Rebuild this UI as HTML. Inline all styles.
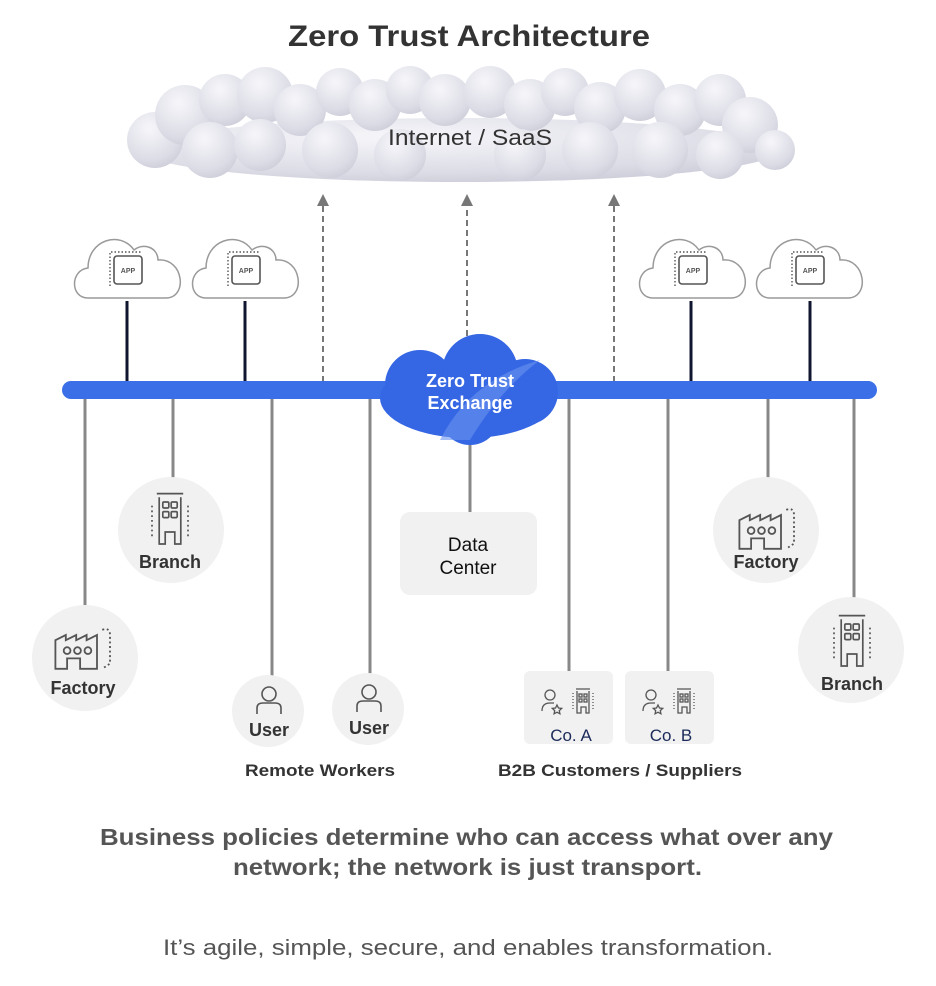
<!DOCTYPE html>
<html><head><meta charset="utf-8"><style>
html,body{margin:0;padding:0;background:#fff;}
svg{display:block;font-family:"Liberation Sans",sans-serif;}
</style></head><body>
<svg width="936" height="986" viewBox="0 0 936 986" xmlns="http://www.w3.org/2000/svg">
<defs>
<radialGradient id="cg" cx="0.4" cy="0.3" r="0.8"><stop offset="0" stop-color="#f6f6fa"/><stop offset="0.7" stop-color="#dcdce6"/><stop offset="1" stop-color="#c9c9d6"/></radialGradient>
<g id="appcloud">
<path d="M-40,30 C-58,30 -58,2 -40,0 C-40,-28 -8,-38 6,-18 C16,-26 30,-20 30,-8 C56,-10 60,30 38,30 Z" fill="#fff" stroke="#9a9a9a" stroke-width="1.5"/>
<rect x="-14" y="-12" width="28" height="28" rx="3" fill="#fff" stroke="#555" stroke-width="1.6"/>
<path d="M-18,18 V-16 H14" fill="none" stroke="#555" stroke-width="1.4" stroke-dasharray="1.5,2"/>
<text x="0" y="5" font-size="7" fill="#555" text-anchor="middle" font-weight="bold">APP</text>
</g>
<g id="factory" fill="none" stroke="#555" stroke-width="1.4" transform="scale(1.3)">
<path d="M-22,16 V-6 L-14,-10 V-6 L-6,-10 V-6 L2,-10 V-6 L10,-10 V16 H-3 V8 H-13 V16 Z"/>
<circle cx="-13" cy="2" r="2.6"/><circle cx="-5" cy="2" r="2.6"/><circle cx="3" cy="2" r="2.6"/>
<path d="M14,-14 Q20,-16 20,-10 V12 L14,16" stroke-dasharray="1.5,2"/>
</g>
<g id="branch" fill="none" stroke="#555" stroke-width="1.4" transform="scale(1.2)">
<path d="M-11,-22 H11"/><path d="M-9,-19 V20 H-4 V10 H4 V20 H9 V-19"/>
<rect x="-6" y="-15" width="5" height="5" rx="1"/><rect x="1" y="-15" width="5" height="5" rx="1"/>
<rect x="-6" y="-7" width="5" height="5" rx="1"/><rect x="1" y="-7" width="5" height="5" rx="1"/>
<path d="M-15,-12 V16 M15,-12 V16" stroke-dasharray="1.5,2.5"/>
</g>
<g id="user" fill="none" stroke="#555" stroke-width="1.6">
<circle cx="0" cy="-6" r="7"/><path d="M-12,14 V8 Q-12,3 -6,3 H6 Q12,3 12,8 V14"/>
</g>
<g id="co" fill="none" stroke="#555" stroke-width="1.3">
<circle cx="-20" cy="-8" r="5"/><path d="M-28,8 Q-28,0 -20,0 H-16"/>
<path d="M-13,2 l1.5,3 3.2,.4 -2.4,2.2 .6,3.2 -2.9,-1.6 -2.9,1.6 .6,-3.2 -2.4,-2.2 3.2,-.4z"/>
<path d="M6,-14 H20 M7,-12 V10 H11 V4 H16 V10 H19 V-12"/>
<rect x="9" y="-9" width="3" height="3"/><rect x="14" y="-9" width="3" height="3"/><rect x="9" y="-4" width="3" height="3"/><rect x="14" y="-4" width="3" height="3"/>
<path d="M3,-10 V8 M23,-10 V8" stroke-dasharray="1,2"/>
</g>
</defs>
<text x="288" y="46" font-size="30" font-weight="bold" fill="#333" textLength="362" lengthAdjust="spacingAndGlyphs">Zero Trust Architecture</text>
<g fill="url(#cg)">
<ellipse cx="460" cy="150" rx="320" ry="32"/>
<circle cx="155" cy="140" r="28"/><circle cx="185" cy="115" r="30"/><circle cx="225" cy="100" r="26"/><circle cx="265" cy="95" r="28"/>
<circle cx="300" cy="110" r="26"/><circle cx="340" cy="92" r="24"/><circle cx="375" cy="105" r="26"/><circle cx="410" cy="90" r="24"/>
<circle cx="445" cy="100" r="26"/><circle cx="490" cy="92" r="26"/><circle cx="530" cy="105" r="26"/><circle cx="565" cy="92" r="24"/>
<circle cx="600" cy="108" r="26"/><circle cx="640" cy="95" r="26"/><circle cx="680" cy="110" r="26"/><circle cx="720" cy="100" r="26"/>
<circle cx="750" cy="125" r="28"/><circle cx="775" cy="150" r="20"/>
<circle cx="210" cy="150" r="28"/><circle cx="260" cy="145" r="26"/><circle cx="330" cy="150" r="28"/><circle cx="400" cy="155" r="26"/>
<circle cx="520" cy="155" r="26"/><circle cx="590" cy="150" r="28"/><circle cx="660" cy="150" r="28"/><circle cx="720" cy="155" r="24"/>
</g>
<text x="388" y="145" font-size="22" fill="#333" textLength="164" lengthAdjust="spacingAndGlyphs">Internet / SaaS</text>
<g stroke="#777" stroke-width="2" stroke-dasharray="6,4"><path d="M323,382 V205"/><path d="M467,336 V205"/><path d="M614,382 V205"/></g>
<g fill="#777"><path d="M317,206 L323,194 L329,206Z"/><path d="M461,206 L467,194 L473,206Z"/><path d="M608,206 L614,194 L620,206Z"/></g>
<use href="#appcloud" x="128" y="268"/><use href="#appcloud" x="246" y="268"/>
<use href="#appcloud" x="693" y="268"/><use href="#appcloud" x="810" y="268"/>
<g stroke="#101530" stroke-width="3"><path d="M127,301 V386M245,301 V386M691,301 V386M810,301 V386"/></g>
<g stroke="#888" stroke-width="3">
<path d="M85,392 V606"/><path d="M173,392 V478"/><path d="M272,392 V676"/><path d="M370,392 V674"/>
<path d="M470,440 V513"/><path d="M569,392 V671"/><path d="M668,392 V671"/><path d="M768,392 V478"/><path d="M854,392 V598"/>
</g>
<rect x="62" y="381" width="815" height="18" rx="9" fill="#3b6fe8"/>
<g fill="#3566e3">
<ellipse cx="468" cy="398" rx="88" ry="40"/><circle cx="420" cy="385" r="35"/><circle cx="480" cy="372" r="38"/><circle cx="525" cy="392" r="33"/><circle cx="470" cy="415" r="30"/>
</g>
<path d="M440,440 Q470,380 540,360 Q500,390 470,440Z" fill="#6a92f0" opacity=".6"/>
<text x="470" y="387" font-size="18" font-weight="bold" fill="#fff" text-anchor="middle">Zero Trust</text>
<text x="470" y="409" font-size="18" font-weight="bold" fill="#fff" text-anchor="middle">Exchange</text>
<g fill="#f1f1f1">
<circle cx="85" cy="658" r="53"/><circle cx="171" cy="530" r="53"/><circle cx="268" cy="711" r="36"/><circle cx="368" cy="709" r="36"/>
<circle cx="766" cy="530" r="53"/><circle cx="851" cy="650" r="53"/>
<rect x="400" y="512" width="137" height="83" rx="10"/>
<rect x="524" y="671" width="89" height="73" rx="6"/><rect x="625" y="671" width="89" height="73" rx="6"/>
</g>
<use href="#factory" x="84" y="648"/><use href="#branch" x="170" y="520"/>
<use href="#user" x="269" y="700"/><use href="#user" x="369" y="698"/>
<use href="#factory" x="768" y="528"/><use href="#branch" x="852" y="642"/>
<use href="#co" x="570" y="703"/><use href="#co" x="671" y="703"/>
<g font-size="18" font-weight="bold" fill="#333" text-anchor="middle">
<text x="83" y="694">Factory</text><text x="170" y="568">Branch</text>
<text x="269" y="736">User</text><text x="369" y="734">User</text>
<text x="766" y="568">Factory</text><text x="852" y="690">Branch</text>
</g>
<g font-size="17" font-weight="bold" fill="#333">
<text x="245" y="776" textLength="150" lengthAdjust="spacingAndGlyphs">Remote Workers</text>
<text x="498" y="776" textLength="244" lengthAdjust="spacingAndGlyphs">B2B Customers / Suppliers</text>
</g>
<text x="468" y="551" font-size="19" fill="#111" text-anchor="middle">Data</text>
<text x="468" y="574" font-size="19" fill="#111" text-anchor="middle">Center</text>
<text x="571" y="741" font-size="17" fill="#1a2a5a" text-anchor="middle">Co. A</text>
<text x="671" y="741" font-size="17" fill="#1a2a5a" text-anchor="middle">Co. B</text>
<text x="100" y="845" font-size="23" font-weight="bold" fill="#555" textLength="733" lengthAdjust="spacingAndGlyphs">Business policies determine who can access what over any</text>
<text x="233" y="875" font-size="23" font-weight="bold" fill="#555" textLength="469" lengthAdjust="spacingAndGlyphs">network; the network is just transport.</text>
<text x="163" y="955" font-size="22" fill="#555" textLength="610" lengthAdjust="spacingAndGlyphs">It’s agile, simple, secure, and enables transformation.</text>
</svg>
</body></html>
